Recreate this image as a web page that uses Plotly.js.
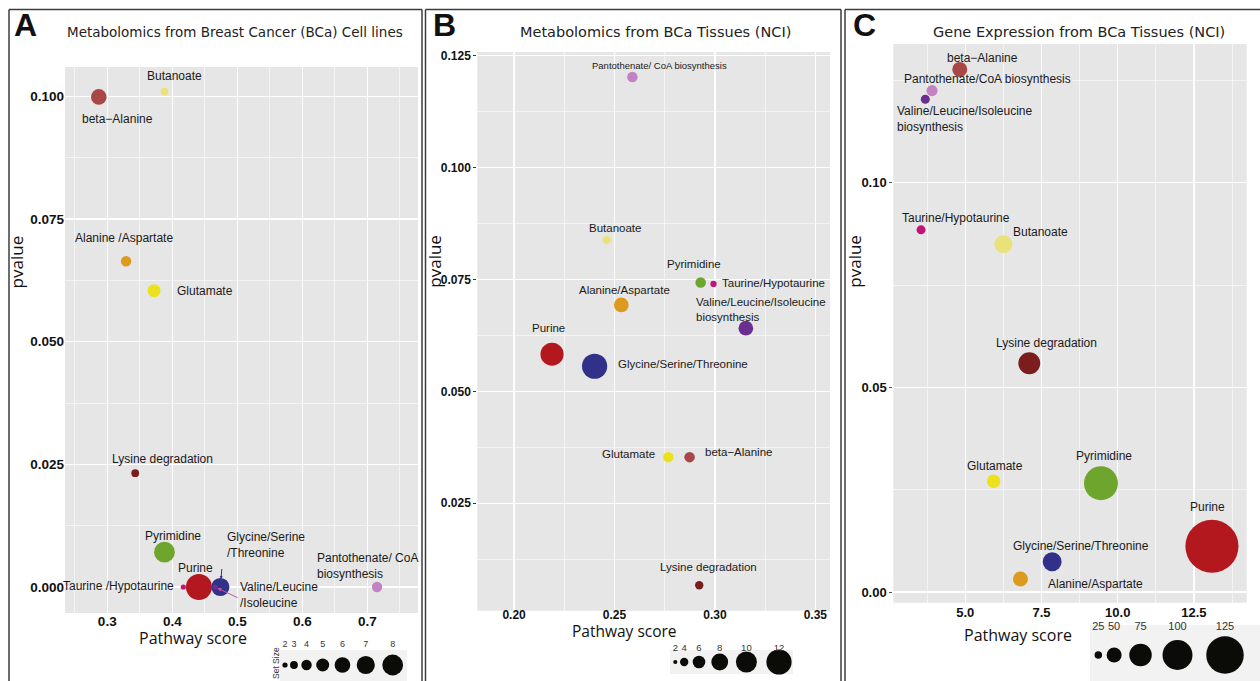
<!DOCTYPE html>
<html><head><meta charset="utf-8">
<script src="https://cdn.plot.ly/plotly-3.0.1.min.js"></script>
<style>html,body{margin:0;padding:0;background:#fff;}#chart{width:1260px;height:681px;}</style>
</head><body><div id="chart"></div>
<script>
// ---------------- DATA ----------------
const pathways = ['beta-Alanine','Butanoate','Alanine/Aspartate','Glutamate','Lysine degradation','Pyrimidine',
  'Taurine/Hypotaurine','Purine','Glycine/Serine/Threonine','Valine/Leucine/Isoleucine','Pantothenate/CoA'];

// Panel A: Metabolomics from BCa cell lines
const cellLabels = ['beta\u2212Alanine','Butanoate','Alanine /Aspartate','Glutamate','Lysine degradation','Pyrimidine',
  'Taurine /Hypotaurine','Purine','Glycine/Serine<br>/Threonine','Valine/Leucine<br>/Isoleucine','Pantothenate/ CoA<br>biosynthesis'];
const cellScore   = [0.287, 0.388, 0.329, 0.372, 0.343, 0.388, 0.417, 0.441, 0.474, 0.466, 0.715];
const cellPvalue  = [0.0999, 0.1010, 0.0664, 0.0604, 0.0232, 0.0071, 0.0000, 0.0000, 0.0000, 0.0000, 0.0000];
const cellSetSize = [6, 3, 4, 5, 3, 8, 2, 10, 7, 2, 4];

// Panel B: Metabolomics from BCa tissues (NCI)
const nciMetLabels = ['beta\u2212Alanine','Butanoate','Alanine/Aspartate','Glutamate','Lysine degradation','Pyrimidine',
  'Taurine/Hypotaurine','Purine','Glycine/Serine/Threonine','Valine/Leucine/Isoleucine<br>biosynthesis','Pantothenate/ CoA biosynthesis'];
const nciMetScore   = [0.2874, 0.2461, 0.2534, 0.2768, 0.2922, 0.2929, 0.2993, 0.2189, 0.2401, 0.3154, 0.2589];
const nciMetPvalue  = [0.0353, 0.0838, 0.0693, 0.0353, 0.0067, 0.0743, 0.0740, 0.0583, 0.0556, 0.0641, 0.1202];
const nciMetSetSize = [5, 4, 7, 5, 4, 5, 3, 11, 12, 7, 5];

// Panel C: Gene expression from BCa tissues (NCI)
const geneLabels = ['beta\u2212Alanine','Butanoate','Alanine/Aspartate','Glutamate','Lysine degradation','Pyrimidine',
  'Taurine/Hypotaurine','Purine','Glycine/Serine/Threonine','Valine/Leucine/Isoleucine<br>biosynthesis','Pantothenate/CoA biosynthesis'];
const geneScore   = [4.82, 6.25, 6.81, 5.93, 7.10, 9.45, 3.55, 13.09, 7.85, 3.69, 3.91];
const genePvalue  = [0.1277, 0.0850, 0.0032, 0.0271, 0.0559, 0.0266, 0.0885, 0.0112, 0.0074, 0.1204, 0.1225];
const geneSetSize = [50, 60, 50, 45, 73, 113, 30, 177, 63, 30, 37];

// Size legends (set size)
const legendSizesA = [2, 3, 4, 5, 6, 7, 8];
const legendSizesB = [2, 4, 6, 8, 10, 12];
const legendSizesC = [25, 50, 75, 100, 125];

// Text
const panelTitles = ['Metabolomics from Breast Cancer (BCa) Cell lines','Metabolomics from BCa Tissues (NCI)','Gene Expression from BCa Tissues (NCI)'];
const panelLetters = ['A','B','C'];

// ---------------- STYLE ----------------
const pathwayColors = {
  'beta-Alanine':'#a94646','Butanoate':'#e9e27a','Alanine/Aspartate':'#dc9a1e','Glutamate':'#ece21c',
  'Lysine degradation':'#7b1d1d','Pyrimidine':'#6ea52c','Taurine/Hypotaurine':'#c3137a','Purine':'#b3181e',
  'Glycine/Serine/Threonine':'#32318a','Valine/Leucine/Isoleucine':'#6b2f8f','Pantothenate/CoA':'#c383c2'
};
const colors = pathways.map(p => pathwayColors[p]);
const W = 1260, H = 681;
const PX = p => p / W, PY = p => 1 - p / H;

// label offsets [dx px, dy px (screen, down +), xanchor, fontsize]
const labelPosA = [[19,22,'center',12],[10,-16,'center',12],[-2,-23,'center',12],[20.6,0,'left',12],[27,-14,'center',12],
  [9,-16,'center',12],[-7,-1,'right',12],[-3.5,-19,'center',12],[4.7,-42,'left',12],[22.7,7.8,'left',12],[-61.7,-20.7,'left',12]];
const labelPosB = [[13.6,-4.7,'left',11.5],[8,-12.3,'center',11.5],[3,-14.7,'center',11.5],[-11,-3,'right',11.5],[9,-18.6,'center',11.5],
  [-6.4,-19,'center',11.5],[6.3,-1.3,'left',11.5],[-3.7,-26,'center',11.5],[21.3,-2.3,'left',11.5],[-51.7,-19.2,'left',11.5],[27.4,-11.6,'center',9.5]];
const labelPosC = [[23,-11.6,'center',12],[7.7,-12,'left',12],[25.3,4.7,'left',12],[1.5,-15,'center',12],[17.7,-20,'center',12],
  [3,-27.6,'center',12],[-20.7,-12,'left',12],[-4.5,-39,'center',12],[28.8,-16,'center',12],[-30.6,19.7,'left',12],[-29.7,-11.7,'left',12]];

const tickFamily = 'Liberation Sans, Arial, sans-serif';
const labelFamily = 'Liberation Sans, Arial, sans-serif';
const titleFamily = 'DejaVu Sans, Open Sans, sans-serif';
const axisTitleFamily = 'Open Sans, Lato, sans-serif';
const minorGrid = {showgrid:true, gridcolor:'rgba(255,255,255,0.8)', gridwidth:0.7, tick0:0};

function axisBase(extra) {
  return Object.assign({
    showgrid: true, gridcolor: '#ffffff', gridwidth: 1.4, zeroline: false, showline: false,
    ticks: '', tickfont: {family: tickFamily, size: 13.5, weight: 'bold', color: '#111'}
  }, extra);
}

const layout = {
  width: W, height: H, margin: {l:0, r:0, t:0, b:0},
  paper_bgcolor: '#ffffff', plot_bgcolor: 'rgba(0,0,0,0)', showlegend: false,
  xaxis: axisBase({domain:[PX(65),PX(418)], range:[0.235,0.778], anchor:'y', tick0:0, dtick:0.1, tickformat:'.1f',
    ticklabelstandoff:-2, minor:Object.assign({dtick:0.05}, minorGrid)}),
  yaxis: axisBase({domain:[PY(613),PY(67)], range:[-0.0053,0.106], anchor:'x', tick0:0, dtick:0.025, tickformat:'.3f',
    minor:Object.assign({dtick:0.0125}, minorGrid)}),
  xaxis2: axisBase({domain:[PX(477.3),PX(830)], range:[0.1817,0.3573], anchor:'y2', tick0:0, dtick:0.05, tickformat:'.2f',
    ticklabelstandoff:-5, tickfont:{family:tickFamily,size:12,weight:'bold',color:'#111'}, minor:Object.assign({dtick:0.025}, minorGrid)}),
  yaxis2: axisBase({domain:[PY(610.7),PY(52)], range:[0.001,0.1258], anchor:'x2', tick0:0, dtick:0.025, tickformat:'.3f',
    ticks:'outside', ticklen:3, tickcolor:'#333', tickfont:{family:tickFamily,size:12,weight:'bold',color:'#111'},
    minor:Object.assign({dtick:0.0125}, minorGrid)}),
  xaxis3: axisBase({domain:[PX(893.3),PX(1246.7)], range:[2.64,14.23], anchor:'y3', tick0:0, dtick:2.5, tickformat:'.1f',
    tickfont:{family:tickFamily,size:13,weight:'bold',color:'#111'}, minor:Object.assign({dtick:1.25}, minorGrid)}),
  yaxis3: axisBase({domain:[PY(602.7),PY(44)], range:[-0.0026,0.1339], anchor:'x3', tick0:0, dtick:0.05, tickformat:'.2f',
    ticks:'outside', ticklen:3, tickcolor:'#555', tickfont:{family:tickFamily,size:13,weight:'bold',color:'#111'},
    minor:Object.assign({dtick:0.025}, minorGrid)}),
  // size legend axes
  xaxis4: {domain:[PX(285),PX(392.7)], range:[4,64], visible:false, anchor:'y4'},
  yaxis4: {domain:[PY(679),PY(639)], range:[0,1], visible:false, anchor:'x4'},
  xaxis5: {domain:[PX(675.3),PX(779)], range:[4,144], visible:false, anchor:'y5'},
  yaxis5: {domain:[PY(671.1),PY(645.1)], range:[0,1], visible:false, anchor:'x5'},
  xaxis6: {domain:[PX(1098.3),PX(1225)], range:[625,15625], visible:false, anchor:'y6'},
  yaxis6: {domain:[PY(674.6),PY(618.6)], range:[0,1], visible:false, anchor:'x6'},
  shapes: [], annotations: []
};

// panel backgrounds
['x','x2','x3'].forEach((xa, i) => {
  const ya = ['y','y2','y3'][i];
  layout.shapes.push({type:'rect', xref: xa+' domain', yref: ya+' domain', x0:0, x1:1, y0:0, y1:1,
    fillcolor:'#e6e6e6', line:{width:0}, layer:'below'});
});
// legend backgrounds
[[280,407,650,681],[670,793,650,674],[1090,1260,625,681]].forEach(b => {
  layout.shapes.push({type:'rect', xref:'paper', yref:'paper', x0:PX(b[0]), x1:PX(b[1]), y0:PY(b[3]), y1:PY(b[2]),
    fillcolor:'#f2f2f2', line:{width:0}, layer:'below'});
});
// panel frames
const frameLine = {color:'#3c3c3c', width:1.5};
[[9,422],[425.5,841],[845,1262]].forEach(f => {
  layout.shapes.push({type:'line', xref:'paper', yref:'paper', x0:PX(f[0]), x1:PX(f[0]), y0:0, y1:PY(9.5), line:frameLine});
  layout.shapes.push({type:'line', xref:'paper', yref:'paper', x0:PX(f[0]), x1:PX(f[1]), y0:PY(9.5), y1:PY(9.5), line:frameLine});
  if (f[1] < 1260) layout.shapes.push({type:'line', xref:'paper', yref:'paper', x0:PX(f[1]), x1:PX(f[1]), y0:0, y1:PY(9.5), line:frameLine});
});

// panel letters, titles, axis titles
const letterX = [12, 430.5, 850.5];
const titleX = [234.5, 655.8, 1079.2];
const titleSize = [13.5, 14.5, 14.5];
const pvalX = [16.7, 435, 855];
const pathX = [193.3, 624, 1017.5], pathY = [637.5, 631, 635];
const pathSize = [16, 15.5, 16];
for (let i = 0; i < 3; i++) {
  layout.annotations.push({xref:'paper', yref:'paper', x:PX(letterX[i]), y:PY(25.5), xanchor:'left', yanchor:'middle',
    text: panelLetters[i], showarrow:false, font:{family:'Liberation Sans, Arial, sans-serif', size:32, weight:'bold', color:'#111'}});
  layout.annotations.push({xref:'paper', yref:'paper', x:PX(titleX[i]), y:PY(32), xanchor:'center', yanchor:'middle',
    text: panelTitles[i], showarrow:false, font:{family:titleFamily, size:titleSize[i], color:'#222'}});
  layout.annotations.push({xref:'paper', yref:'paper', x:PX(pvalX[i]), y:PY(261.7), xanchor:'center', yanchor:'middle',
    text:'pvalue', textangle:-90, showarrow:false, font:{family:axisTitleFamily, size:17, color:'#111'}});
  layout.annotations.push({xref:'paper', yref:'paper', x:PX(pathX[i]), y:PY(pathY[i]), xanchor:'center', yanchor:'middle',
    text:'Pathway score', showarrow:false, font:{family:axisTitleFamily, size:pathSize[i], color:'#111'}});
}
layout.annotations.push({xref:'paper', yref:'paper', x:PX(276), y:PY(663), xanchor:'center', yanchor:'middle',
  text:'Set Size', textangle:-90, showarrow:false, font:{family:labelFamily, size:8.5, color:'#333'}});

// point labels
function addLabels(xs, ys, labels, pos, xa, ya) {
  labels.forEach((t, i) => {
    const p = pos[i];
    layout.annotations.push({x: xs[i], y: ys[i], xref: xa, yref: ya, text: t, showarrow: false,
      xanchor: p[2], yanchor: 'middle', align: p[2] === 'center' ? 'center' : 'left',
      xshift: p[0], yshift: -p[1], font: {family: labelFamily, size: p[3], color: '#1a1a1a'}});
  });
}
addLabels(cellScore, cellPvalue, cellLabels, labelPosA, 'x', 'y');
addLabels(nciMetScore, nciMetPvalue, nciMetLabels, labelPosB, 'x2', 'y2');
addLabels(geneScore, genePvalue, geneLabels, labelPosC, 'x3', 'y3');

// leader arrows in panel A
layout.annotations.push({x: cellScore[8], y: cellPvalue[8], xref:'x', yref:'y', text:' ', showarrow:true,
  ax:1.7, ay:-21, arrowcolor:'#2e2c8a', arrowwidth:1, arrowhead:2, arrowsize:0.6, standoff:8, font:{size:2}});
layout.annotations.push({x: cellScore[9], y: cellPvalue[9], xref:'x', yref:'y', text:' ', showarrow:true,
  ax:24.3, ay:11.6, arrowcolor:'#c453a6', arrowwidth:1, arrowhead:2, arrowsize:0.8, standoff:2.5, font:{size:2}});

// ---------------- TRACES ----------------
function bubbles(xs, ys, sizes, xa, ya, sizeref) {
  return {type:'scatter', mode:'markers', x: xs, y: ys, xaxis: xa, yaxis: ya, hoverinfo:'skip', cliponaxis:false,
    marker:{size: sizes, sizemode:'diameter', sizeref: sizeref, color: colors, opacity:1, line:{width:0}}};
}
function sizeLegend(sizes, xa, ya, sizeref, fontSize) {
  const xs = sizes.map(s => s * s);
  return [
    {type:'scatter', mode:'markers', x: xs, y: sizes.map(() => 0.35), xaxis: xa, yaxis: ya, hoverinfo:'skip', cliponaxis:false,
      marker:{size: sizes, sizemode:'diameter', sizeref: sizeref, color:'#0b0b08', opacity:1, line:{width:0}}},
    {type:'scatter', mode:'text', x: xs, y: sizes.map(() => 0.85), xaxis: xa, yaxis: ya, hoverinfo:'skip', cliponaxis:false,
      text: sizes.map(String), textposition:'middle center', textfont:{family: labelFamily, size: fontSize, color:'#333'}}
  ];
}

const data = [
  bubbles(cellScore, cellPvalue, cellSetSize, 'x', 'y', 1/2.6),
  bubbles(nciMetScore, nciMetPvalue, nciMetSetSize, 'x2', 'y2', 1/2.1),
  bubbles(geneScore, genePvalue, geneSetSize, 'x3', 'y3', 1/0.3),
  ...sizeLegend(legendSizesA, 'x4', 'y4', 1/2.6, 9),
  ...sizeLegend(legendSizesB, 'x5', 'y5', 1/2.1, 9.5),
  ...sizeLegend(legendSizesC, 'x6', 'y6', 1/0.3, 11)
];

Plotly.newPlot('chart', data, layout, {staticPlot:true, displayModeBar:false});
</script></body></html>
